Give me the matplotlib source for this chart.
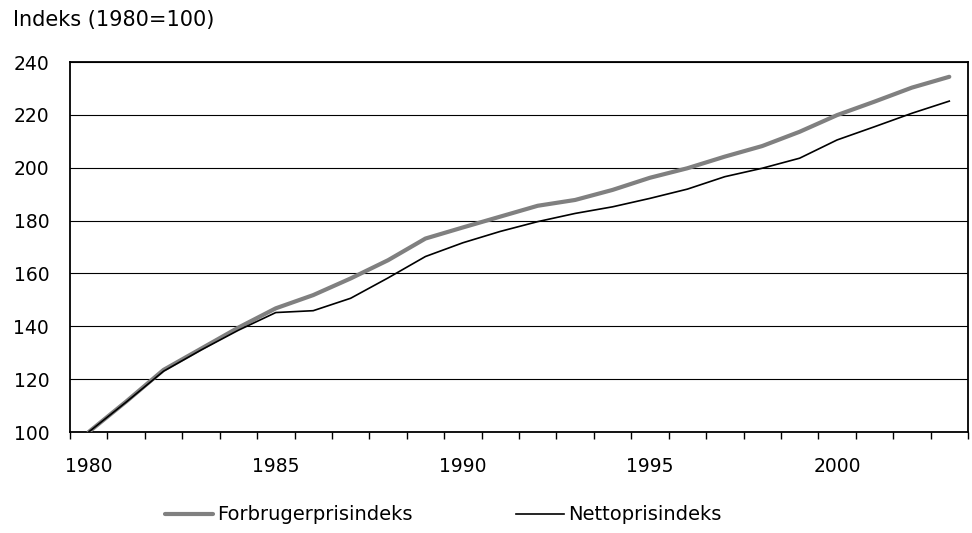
import numpy as np
import matplotlib
matplotlib.use("Agg")
import matplotlib.pyplot as plt

# Data (index, 1980 = 100)
years = list(range(1980, 2004))
forbruger = [100.0, 111.5, 123.5, 131.5, 139.5, 146.8, 151.8, 158.1, 165.0, 173.2,
             177.4, 181.5, 185.6, 187.8, 191.6, 196.2, 199.8, 204.2, 208.2, 213.6,
             219.9, 225.0, 230.3, 234.4]
netto = [100.0, 111.3, 123.0, 131.0, 138.5, 145.2, 145.9, 150.6, 158.3, 166.4,
         171.6, 175.9, 179.6, 182.7, 185.2, 188.4, 191.9, 196.6, 199.8, 203.6,
         210.5, 215.5, 220.6, 225.2]
label_years = [1980, 1985, 1990, 1995, 2000]
y_ticks = [100, 120, 140, 160, 180, 200, 220, 240]

# the original uses a wide (stretched) Arial look, DejaVu Sans matches the footprint better
plt.rcParams['font.family'] = ['DejaVu Sans']
fs = 13.5

fig = plt.figure(figsize=(9.72, 5.33), dpi=100)
ax = fig.add_axes([70 / 972, 1 - 432 / 533, (968 - 70) / 972, (432 - 62) / 533])

ax.plot(years, forbruger, color='#808080', lw=3.0, solid_capstyle='round',
        label='Forbrugerprisindeks', zorder=3)
ax.plot(years, netto, color='black', lw=1.2, label='Nettoprisindeks', zorder=4)

ax.set_xlim(1979.5, 2003.5)
ax.set_ylim(100, 240)
ax.set_yticks(y_ticks)
ax.set_xticks(label_years)
ax.set_xticks(np.arange(1979.5, 2004, 1), minor=True)
ax.tick_params(axis='x', which='major', length=0, pad=18, labelsize=fs)
ax.tick_params(axis='x', which='minor', length=5, width=1, direction='out')
ax.tick_params(axis='y', length=0, pad=15, labelsize=fs)
ax.yaxis.grid(True, color='black', lw=0.8)
ax.set_axisbelow(True)
for s in ax.spines.values():
    s.set_linewidth(1.3)
    s.set_color('black')

fig.text(13 / 972, 1 - 25.7 / 533, 'Indeks (1980=100)', fontsize=15, va='baseline', ha='left')

fig.legend(loc='center left', bbox_to_anchor=(165 / 972, 1 - 515 / 533), ncol=2,
           frameon=False, fontsize=14, borderpad=0, borderaxespad=0,
           handlelength=2.45, handletextpad=0.25, columnspacing=5.3)

fig.savefig('out.png', dpi=100)
